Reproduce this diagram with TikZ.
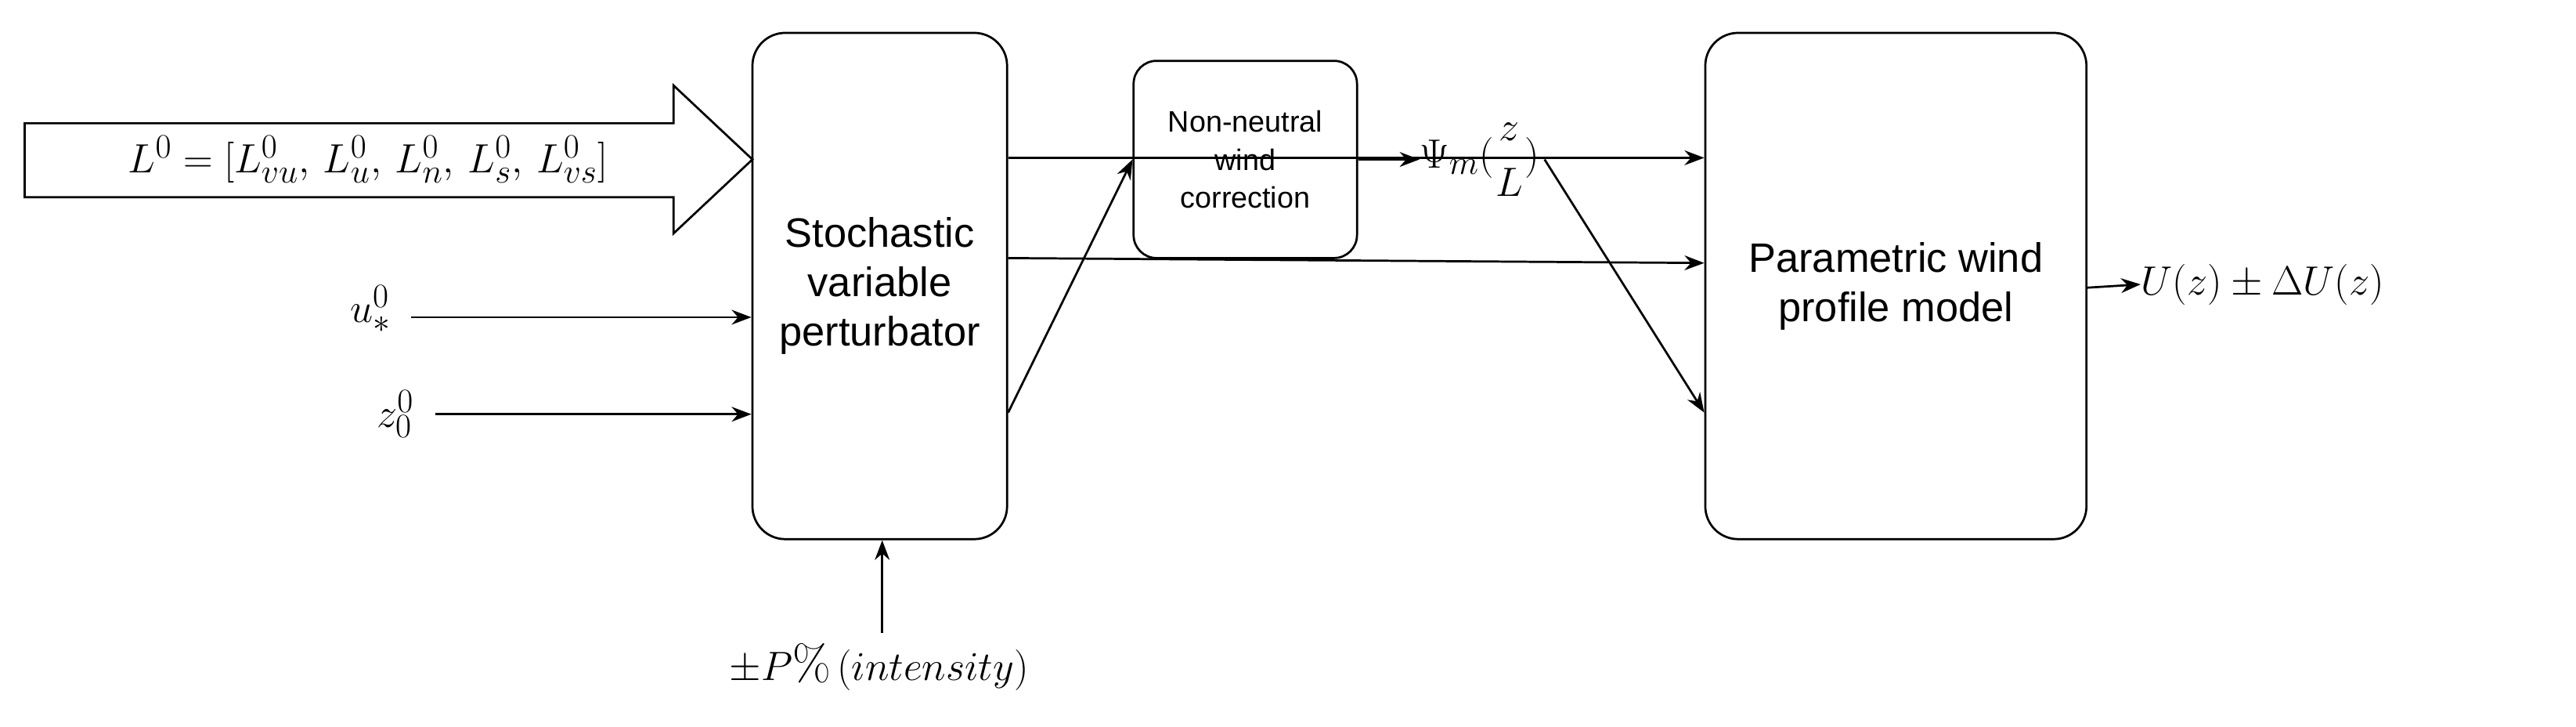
\documentclass[tikz,border=0pt]{standalone}
\usepackage{fontspec}
\newfontfamily\sans{Liberation Sans}
\usetikzlibrary{shapes.arrows,arrows.meta}
\begin{document}
\begin{tikzpicture}[x=1pt,y=-1pt,
  box/.style={draw,line width=1.3pt,rounded corners=20pt,align=center,font=\sans\fontsize{25}{30}\selectfont},
  arr/.style={-{Stealth[length=12pt,width=9pt]},line width=1.3pt},
  lab/.style={inner sep=0pt,font=\fontsize{30}{36}\selectfont}]
\useasboundingbox (0,0) rectangle (1568,442);
\node[box,minimum width=155pt,minimum height=308pt] (sv) at (535.5,174) {Stochastic\\variable\\perturbator};
\node[box,rounded corners=14pt,minimum width=136pt,minimum height=120pt,font=\sans\fontsize{18}{23}\selectfont] (nn) at (758,97) {Non-neutral\\wind\\correction};
\node[box,minimum width=232pt,minimum height=308pt] (pw) at (1154,174) {Parametric wind\\profile model};
\draw[line width=1.3pt] (15,75) -- (410,75) -- (410,52) -- (458,97) -- (410,142) -- (410,120) -- (15,120) -- cycle;
\node[lab] (L) at (224,97) {$L^0=[L^0_{vu},\,L^0_u,\,L^0_n,\,L^0_s,\,L^0_{vs}]$};
\node[lab,anchor=east] (u) at (238,188) {$u^0_*$};
\node[lab,anchor=east] (z) at (252,252) {$z^0_0$};
\coordinate (us) at (250,193);
\coordinate (zs) at (265,252);
\draw[arr] (us) -- (us-|sv.west);
\draw[arr] (zs) -- (zs-|sv.west);
\draw[arr] ([yshift=-77pt]sv.east) -- (nn.west);
\node[lab,anchor=west] (psi) at (864,97) {$\Psi_m(\displaystyle\frac{z}{L})$};
\draw[arr] (nn.east) -- (psi.west);
\draw[arr] (psi.east) ++(3,0) -- ([yshift=-77pt]pw.west);
\draw[arr] ([yshift=17pt]sv.east) -- ([yshift=14pt]pw.west);
\draw[arr] ([yshift=78pt]sv.east) -- ([yshift=78pt]pw.west);
\node[lab,anchor=west] (out) at (1303,173) {$U(z)\pm\Delta U(z)$};
\draw[arr] ([yshift=-1pt]pw.east) -- (out.west);
\node[lab] (p) at (535,406) {$\pm P\%\,(intensity)$};
\draw[arr] (537,385) -- (sv.south-|537,0);
\end{tikzpicture}
\end{document}
